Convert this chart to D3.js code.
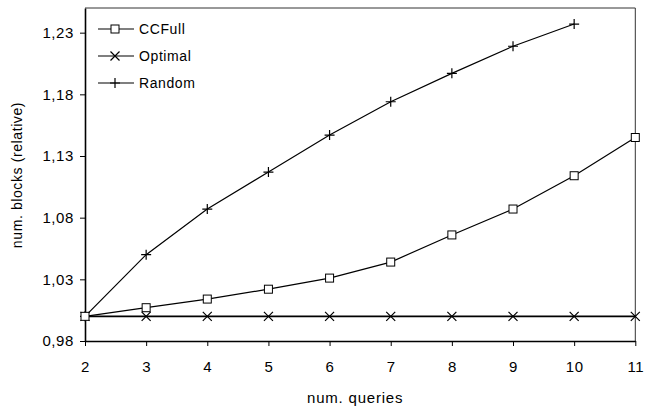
<!DOCTYPE html>
<html>
<head>
<meta charset="utf-8">
<script src="https://cdn.jsdelivr.net/npm/d3@7"></script>
<style>
  body { margin: 0; background: #fff; }
  text { font-family: "Liberation Sans", Arial, sans-serif; fill: #000; }
  .axis text { font-size: 15px; letter-spacing: 0.6px; }
  .axistitle, .legend text { font-size: 14px; letter-spacing: 0.6px; }
  .xtitle { font-size: 15px; letter-spacing: 0.8px; }
</style>
</head>
<body>
<div id="chart"></div>
<script>
// Data
let queries = [2, 3, 4, 5, 6, 7, 8, 9, 10, 11];
let ccfull = [1.0, 1.007, 1.014, 1.022, 1.031, 1.044, 1.066, 1.087, 1.114, 1.145];
let optimal = [1.0, 1.0, 1.0, 1.0, 1.0, 1.0, 1.0, 1.0, 1.0, 1.0];
let random = [1.0, 1.050, 1.087, 1.117, 1.147, 1.174, 1.197, 1.219, 1.237];
let yTicks = [0.98, 1.03, 1.08, 1.13, 1.18, 1.23];
let seriesNames = ["CCFull", "Optimal", "Random"];

let margin = { top: 8, right: 10, bottom: 67, left: 85 },
  width = 646 - margin.left - margin.right,
  height = 408 - margin.top - margin.bottom;

let svg = d3
  .select("#chart")
  .append("svg")
  .attr("width", 646)
  .attr("height", 408)
  .append("g")
  .attr("transform", "translate(" + margin.left + "," + margin.top + ")");

let x = d3.scaleLinear().domain([2, 11]).range([0, width - 0.7]);
let y = d3.scaleLinear().domain([0.98, 1.25]).range([height, 0]);

let fmt = (d) => d3.format(".2f")(d).replace(".", ",");

// frame (top and right)
svg
  .append("path")
  .attr("d", "M0,0H" + x(11) + "V" + height)
  .attr("fill", "none")
  .attr("stroke", "#333")
  .attr("stroke-width", 1);

// x-axis
let xAxisEl = svg
  .append("g")
  .attr("class", "x axis")
  .attr("transform", "translate(0," + height + ")")
  .call(d3.axisBottom(x).tickValues(queries).tickSize(5).tickPadding(15).tickSizeOuter(0));

// y-axis
let yAxisEl = svg
  .append("g")
  .attr("class", "y axis")
  .call(d3.axisLeft(y).tickValues(yTicks).tickFormat(fmt).tickSize(5).tickPadding(6).tickSizeOuter(0));

svg.selectAll(".axis .domain").attr("stroke", "#000").attr("stroke-width", 1.6);
svg.selectAll(".axis line").attr("stroke", "#000");
svg.selectAll(".axis text").attr("fill", "#000");

svg
  .append("text")
  .attr("class", "xtitle")
  .attr("text-anchor", "middle")
  .attr("x", x(6.5) - 5)
  .attr("y", height + 62)
  .text("num. queries");

svg
  .append("text")
  .attr("class", "axistitle")
  .attr("text-anchor", "middle")
  .attr("transform", "translate(" + (-63) + "," + (175 - margin.top) + ") rotate(-90)")
  .text("num. blocks (relative)");

// markers
function drawMarker(g, kind) {
  if (kind === "CCFull") {
    g.append("rect").attr("x", -4).attr("y", -4).attr("width", 8).attr("height", 8)
      .attr("fill", "#fff").attr("stroke", "#000").attr("stroke-width", 1);
  } else if (kind === "Optimal") {
    g.append("path").attr("d", "M-4.5,-4.5L4.5,4.5M-4.5,4.5L4.5,-4.5")
      .attr("stroke", "#000").attr("stroke-width", 1.2);
  } else {
    g.append("path").attr("d", "M-5,0H5M0,-5V5")
      .attr("stroke", "#000").attr("stroke-width", 1.2);
  }
}

let line = d3.line().x((d) => x(d[0])).y((d) => y(d[1]));

let allSeries = [
  { name: "Optimal", values: optimal },
  { name: "Random", values: random },
  { name: "CCFull", values: ccfull },
];

allSeries.forEach(function (s) {
  let pts = s.values.map((v, i) => [queries[i], v]);
  svg.append("path").attr("d", line(pts)).attr("fill", "none")
    .attr("stroke", "#000").attr("stroke-width", s.name === "Optimal" ? 1.6 : 1.2);
  svg.append("g").selectAll("g").data(pts).join("g")
    .attr("transform", (d) => "translate(" + x(d[0]) + "," + y(d[1]) + ")")
    .each(function () { drawMarker(d3.select(this), s.name); });
});

// legend
let legend = svg.append("g").attr("class", "legend");
seriesNames.forEach(function (name, i) {
  let g = legend.append("g").attr("transform", "translate(13," + (21 + i * 27) + ")");
  g.append("line").attr("x1", 0).attr("x2", 36).attr("stroke", "#000").attr("stroke-width", 1.2);
  drawMarker(g.append("g").attr("transform", "translate(17,0)"), name);
  g.append("text").attr("x", 41).attr("dy", "0.36em").text(name);
});
</script>
</body>
</html>
